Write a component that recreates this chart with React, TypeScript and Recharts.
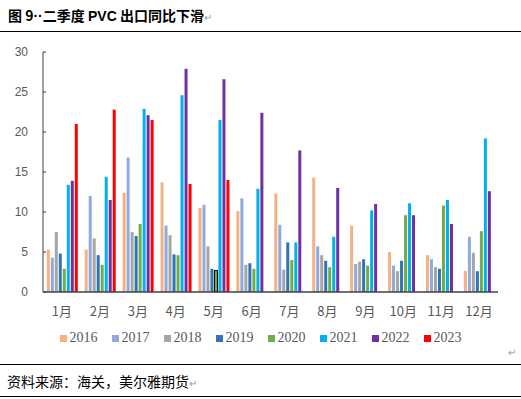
import React from "react";
import { BarChart, Bar, XAxis, YAxis, Cell } from "recharts";

const months = ["1月", "2月", "3月", "4月", "5月", "6月", "7月", "8月", "9月", "10月", "11月", "12月"];
const years = ["2016", "2017", "2018", "2019", "2020", "2021", "2022", "2023"];
const colors = ["#F4B183", "#8FAADC", "#A5A5A5", "#2E75B6", "#70AD47", "#00B0F0", "#7030A0", "#FF0000"];

const v2016 = [5.3, 5.3, 12.4, 13.7, 10.5, 10.1, 12.3, 14.3, 8.3, 5.0, 4.6, 2.65];
const v2017 = [4.3, 12.0, 16.8, 8.3, 10.9, 11.7, 8.4, 5.7, 3.5, 3.3, 4.1, 6.9];
const v2018 = [7.5, 6.7, 7.5, 7.1, 5.7, 3.4, 2.8, 4.6, 3.8, 2.6, 3.1, 4.9];
const v2019 = [4.8, 4.6, 7.0, 4.7, 2.9, 3.6, 6.2, 3.9, 4.1, 3.9, 2.9, 2.6];
const v2020 = [2.9, 3.4, 8.5, 4.6, 2.7, 2.9, 4.0, 3.1, 3.3, 9.6, 10.8, 7.6];
const v2021 = [13.4, 14.4, 22.9, 24.6, 21.5, 12.9, 6.2, 6.9, 10.2, 11.1, 11.5, 19.2];
const v2022 = [13.9, 11.5, 22.1, 27.9, 26.6, 22.4, 17.7, 13.0, 11.0, 9.6, 8.5, 12.6];
const v2023 = [21.0, 22.8, 21.5, 13.5, 14.0, null, null, null, null, null, null, null];

const yTicks = [0, 5, 10, 15, 20, 25, 30];

const series = [v2016, v2017, v2018, v2019, v2020, v2021, v2022, v2023];
const data = months.map((m, i) => {
  const row: Record<string, string | number | null> = { month: m };
  years.forEach((y, k) => {
    row[y] = series[k][i];
  });
  return row;
});

const txt = "#595959";
const cjk = '"Noto Sans CJK SC", sans-serif';
const latin = '"Liberation Sans", sans-serif';

export default function App() {
  return (
    <div style={{ position: "absolute", left: 0, top: 0, width: 521, height: 399, background: "#fff", overflow: "hidden" }}>
      <div style={{ position: "absolute", left: 8, top: 5, fontFamily: cjk, fontWeight: 700, fontSize: 14, color: "#000", whiteSpace: "nowrap" }}>
        图 9<span style={{ fontFamily: latin }}>··</span>二季度 <span style={{ fontFamily: latin }}>PVC</span> 出口同比下滑
        <span style={{ color: "#999", fontWeight: 400, fontSize: 10 }}>↵</span>
      </div>
      <div style={{ position: "absolute", left: 0, top: 31, width: 521, height: 1, background: "#000" }} />

      <div style={{ position: "absolute", left: 0, top: 0 }}>
        <BarChart width={521} height={360} data={data} margin={{ top: 52, right: 23, left: 0, bottom: 38 }} barCategoryGap="10%" barGap={1}>
          <XAxis
            dataKey="month"
            height={30}
            tickLine={false}
            tickMargin={9}
            axisLine={{ stroke: "#404040", strokeWidth: 1.5 }}
            tick={{ fill: txt, fontSize: 13, fontFamily: cjk }}
            interval={0}
          />
          <YAxis
            width={43}
            domain={[0, 30]}
            ticks={yTicks}
            tickSize={-3}
            tickMargin={18}
            axisLine={{ stroke: "#404040" }}
            tickLine={{ stroke: "#404040" }}
            tick={{ fill: txt, fontSize: 12, fontFamily: latin }}
          />
          {years.map((y, k) => (
            <Bar key={y} dataKey={y} fill={colors[k]} isAnimationActive={false}>
              {y === "2020" &&
                months.map((m, i) => (
                  <Cell key={m} fill={colors[k]} stroke={i === 4 ? "#000" : "none"} strokeWidth={i === 4 ? 1 : 0} />
                ))}
            </Bar>
          ))}
        </BarChart>
      </div>

      <div style={{ position: "absolute", left: 0, top: 330, width: 521, display: "flex", justifyContent: "center", fontFamily: '"Liberation Serif", serif', fontSize: 14, color: txt }}>
        {years.map((y, k) => (
          <div key={y} style={{ display: "flex", alignItems: "center", marginRight: k < years.length - 1 ? 14 : 0 }}>
            <span style={{ display: "inline-block", width: 7, height: 7, background: colors[k], marginRight: 3 }} />
            <span>{y}</span>
          </div>
        ))}
      </div>

      <div style={{ position: "absolute", left: 508, top: 344, fontSize: 10, color: "#999", fontFamily: cjk }}>↵</div>
      <div style={{ position: "absolute", left: 0, top: 364, width: 521, height: 1, background: "#000" }} />
      <div style={{ position: "absolute", left: 7, top: 371, fontFamily: cjk, fontSize: 14, color: "#000", whiteSpace: "nowrap" }}>
        资料来源：海关，美尔雅期货<span style={{ color: "#999", fontSize: 10 }}>↵</span>
      </div>
      <div style={{ position: "absolute", left: 0, top: 396, width: 521, height: 1, background: "#000" }} />
    </div>
  );
}
